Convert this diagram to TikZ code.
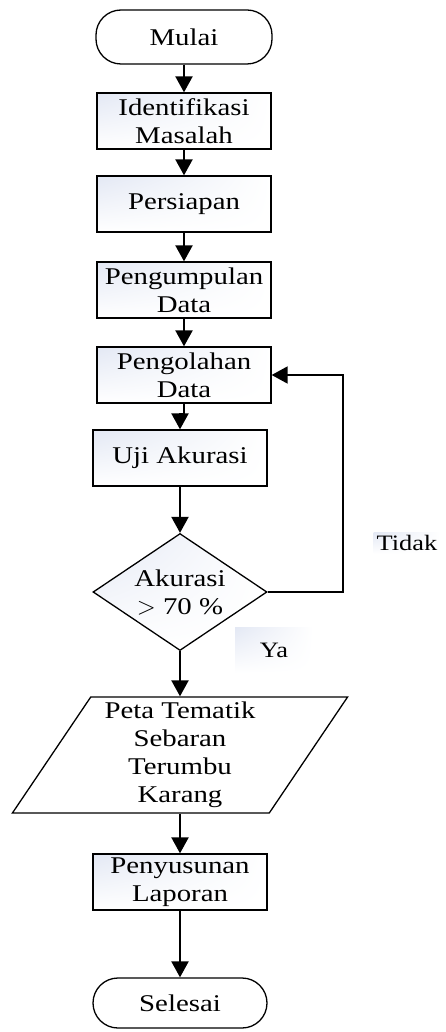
\documentclass[tikz,border=0pt]{standalone}
\usepackage{fontspec}
\setmainfont{Liberation Serif}[FakeStretch=1.2]
\usepackage{xcolor}
\usetikzlibrary{arrows.meta,positioning,shapes.geometric,shadings,calc}
\definecolor{ink}{HTML}{000000}
\definecolor{boxshade}{HTML}{E3E8F4}
\tikzset{
  flowtext/.style={font=\fontsize{24}{28}\selectfont,align=center,text=ink},
  prosesbox/.style={flowtext,draw=ink,line width=1.3pt,
                    upper left=boxshade,upper right=white,lower left=white,
                    lower right=white,minimum width=174pt,
                    minimum height=56pt,inner sep=2pt},
  terminal/.style={flowtext,draw=ink,line width=1.3pt,fill=white,
                   rounded corners=25pt,minimum width=176pt,minimum height=54pt},
  keputusan/.style={flowtext,diamond,draw=ink,line width=1.3pt,
                    upper left=boxshade,upper right=white,lower left=white,
                    lower right=white,aspect=1.49,inner sep=0pt,
                    minimum width=174pt,minimum height=117pt},
  keluaran/.style={flowtext,trapezium,trapezium left angle=58,
                   trapezium right angle=122,trapezium stretches=true,
                   draw=ink,line width=1.3pt,fill=white,inner sep=0pt,
                   minimum width=336pt,minimum height=116pt},
  cabang/.style={font=\fontsize{22}{26}\selectfont,text=ink,
                 upper left=boxshade,upper right=white,lower left=white,
                 lower right=white,inner sep=3pt},
  alur/.style={-{Triangle[length=16pt,width=17pt]},line width=2.2pt,draw=ink},
  balik/.style={-{Triangle[length=16pt,width=17pt]},line width=1.8pt,draw=ink}
}
\begin{document}
\begin{tikzpicture}[x=1pt,y=-1pt]
    \useasboundingbox (0,0) rectangle (445,1032);
    \node[terminal] (mulai) at (184,37) {Mulai};
    \node[prosesbox] (identifikasi) at (184,121) {Identifikasi\\Masalah};
    \node[prosesbox] (persiapan) at (184,204) {Persiapan};
    \node[prosesbox] (pengumpulan) at (184,290) {Pengumpulan\\Data};
    \node[prosesbox] (pengolahan) at (184,375) {Pengolahan\\Data};
    \node[prosesbox] (uji) at (180,458) {Uji Akurasi};
    \node[keputusan] (akurasi) at (180,592) {Akurasi\\$>$ 70 \%};
    \node[keluaran] (peta) at (180,755) {Peta Tematik\\Sebaran\\Terumbu\\Karang};
    \node[prosesbox] (penyusunan) at (180,882) {Penyusunan\\Laporan};
    \node[terminal,minimum width=174pt,minimum height=50pt] (selesai) at (180,1003) {Selesai};
    \node[cabang] (tidak) at (407,543) {Tidak};
    \node[cabang,minimum width=78pt,minimum height=46pt] (ya) at (274,650) {Ya};
    \coordinate (putar) at (343,375);

    \draw[alur] (mulai) -- (identifikasi);
    \draw[alur] (identifikasi) -- (persiapan);
    \draw[alur] (persiapan) -- (pengumpulan);
    \draw[alur] (pengumpulan) -- (pengolahan);
    \draw[alur] (pengolahan.south) -- ++(0,10) -| (uji.north);
    \draw[alur] (uji) -- (akurasi);
    \draw[balik] (akurasi.east) -| (putar) -- (pengolahan.east);
    \draw[alur] (akurasi.south) -- (akurasi.south |- peta.north);
    \draw[alur] (penyusunan.north |- peta.south) -- (penyusunan.north);
    \draw[alur] (penyusunan) -- (selesai);
  \end{tikzpicture}
\end{document}
